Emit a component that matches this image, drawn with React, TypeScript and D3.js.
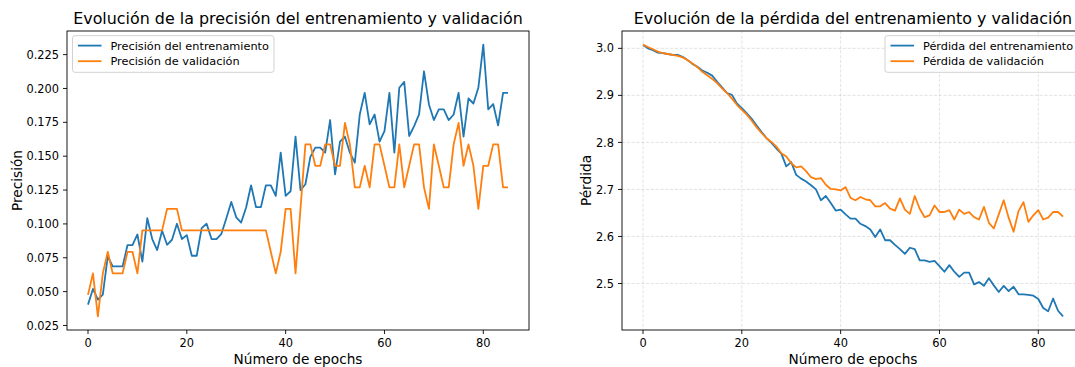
import React, { useEffect } from "react";
import * as d3 from "d3";

// Training history, one value per epoch (0..85)
const trainAcc = [
  0.0404, 0.052, 0.0441, 0.0478, 0.076, 0.0686, 0.0686, 0.0686, 0.0844, 0.0844,
  0.0922, 0.0721, 0.1042, 0.0888, 0.0807, 0.0949, 0.0846, 0.0883, 0.1001, 0.0888,
  0.0917, 0.0765, 0.0765, 0.0969, 0.1001, 0.0888, 0.0888, 0.0927, 0.1042, 0.1162,
  0.1049, 0.101, 0.1121, 0.1285, 0.1124, 0.1124, 0.1285, 0.1285, 0.1207, 0.1526,
  0.1207, 0.1241, 0.1644, 0.125, 0.1293, 0.1495, 0.1563, 0.1563, 0.1526, 0.1767,
  0.1366, 0.1607, 0.1644, 0.1526, 0.1452, 0.1808, 0.1968, 0.1735, 0.1808, 0.1607,
  0.1685, 0.1968, 0.1526, 0.2005, 0.2049, 0.1649, 0.1722, 0.1808, 0.2127, 0.1882,
  0.1767, 0.1845, 0.1845, 0.1767, 0.1808, 0.1968, 0.1644, 0.1926, 0.1889, 0.2005,
  0.2324, 0.1845, 0.1885, 0.1727, 0.1968, 0.1968,
];

const valAcc = [
  0.0476, 0.0635, 0.0317, 0.0635, 0.0794, 0.0635, 0.0635, 0.0635, 0.0794, 0.0794,
  0.0635, 0.0952, 0.0952, 0.0952, 0.0952, 0.0952, 0.1111, 0.1111, 0.1111, 0.0952,
  0.0952, 0.0952, 0.0952, 0.0952, 0.0952, 0.0952, 0.0952, 0.0952, 0.0952, 0.0952,
  0.0952, 0.0952, 0.0952, 0.0952, 0.0952, 0.0952, 0.0952, 0.0794, 0.0635, 0.0794,
  0.1111, 0.1111, 0.0635, 0.1111, 0.1587, 0.1587, 0.1429, 0.1429, 0.1587, 0.1587,
  0.1429, 0.1429, 0.1746, 0.1587, 0.127, 0.127, 0.1429, 0.127, 0.1587, 0.1587,
  0.1429, 0.127, 0.127, 0.1587, 0.127, 0.1429, 0.1587, 0.1587, 0.127, 0.1111,
  0.1587, 0.1429, 0.127, 0.127, 0.1587, 0.1746, 0.1429, 0.1587, 0.1429, 0.1111,
  0.1429, 0.1429, 0.1587, 0.1587, 0.127, 0.127,
];

const trainLoss = [
  3.007, 3.0, 2.996, 2.991, 2.99, 2.988, 2.986, 2.986, 2.982, 2.975,
  2.967, 2.961, 2.953, 2.948, 2.942, 2.929, 2.917, 2.905, 2.901, 2.883,
  2.873, 2.862, 2.85, 2.836, 2.822, 2.809, 2.799, 2.787, 2.776, 2.749,
  2.758, 2.731, 2.723, 2.717, 2.709, 2.7, 2.677, 2.686, 2.671, 2.655,
  2.657, 2.647, 2.638, 2.638, 2.627, 2.622, 2.615, 2.599, 2.615, 2.592,
  2.592, 2.582, 2.573, 2.563, 2.576, 2.573, 2.549, 2.549, 2.546, 2.548,
  2.537, 2.525, 2.539, 2.525, 2.514, 2.523, 2.523, 2.498, 2.503, 2.495,
  2.511, 2.496, 2.482, 2.495, 2.484, 2.493, 2.477, 2.477, 2.476, 2.474,
  2.467, 2.448, 2.441, 2.468, 2.442, 2.43,
];

const valLoss = [
  3.008, 3.003, 2.998, 2.993, 2.99, 2.988, 2.986, 2.984, 2.981, 2.975,
  2.968, 2.96, 2.95, 2.943, 2.935, 2.926, 2.915, 2.905, 2.893, 2.88,
  2.869, 2.859, 2.846, 2.832, 2.82, 2.809, 2.801, 2.791, 2.777, 2.77,
  2.756, 2.747, 2.749, 2.739, 2.726, 2.722, 2.724, 2.71, 2.701, 2.7,
  2.698, 2.705, 2.682, 2.677, 2.684, 2.679, 2.677, 2.664, 2.664, 2.671,
  2.659, 2.655, 2.681, 2.657, 2.648, 2.686, 2.659, 2.641, 2.645, 2.666,
  2.652, 2.652, 2.656, 2.636, 2.657, 2.648, 2.652, 2.641, 2.636, 2.663,
  2.629, 2.617, 2.647, 2.677, 2.64, 2.61, 2.654, 2.673, 2.631, 2.645,
  2.656, 2.636, 2.64, 2.652, 2.652, 2.642,
];

const epochTicks = [0, 20, 40, 60, 80];
const accTicks = [0.025, 0.05, 0.075, 0.1, 0.125, 0.15, 0.175, 0.2, 0.225];
const lossTicks = [2.5, 2.6, 2.7, 2.8, 2.9, 3.0];

const accLabels = ["Precisión del entrenamiento", "Precisión de validación"];
const lossLabels = ["Pérdida del entrenamiento", "Pérdida de validación"];

const W = 1075;
const H = 367;
const FONT = "'DejaVu Sans', sans-serif";
const COLORS = ["#1f77b4", "#ff7f0e"];

const TOP = 31;
const BOTTOM = 330;
const AX_W = 462;
const TICK_LEN = 4;
const TICK_FS = 11.4;
const LEGEND_FS = 11.3;
const LABEL_FS = 13.7;
const TITLE_FS = 15.9;
const LINE_W = 1.8;

type PanelProps = {
  id: string;
  left: number;
  title: string;
  ylabel: string;
  ylabelX: number;
  yTicks: number[];
  yFmt: (v: number) => string;
  series: number[][];
  labels: string[];
  legend: { x: number; w: number };
  grid: boolean;
};

function Panel({ id, left, title, ylabel, ylabelX, yTicks, yFmt, series, labels, legend, grid }: PanelProps) {
  const right = left + AX_W;
  const n = series[0].length;
  const span = n - 1;
  const x = d3.scaleLinear().domain([-span * 0.05, span * 1.05]).range([left, right]);
  const [lo, hi] = d3.extent(series.flat()) as [number, number];
  const pad = (hi - lo) * 0.05;
  const y = d3.scaleLinear().domain([lo - pad, hi + pad]).range([BOTTOM, TOP]);
  const line = d3
    .line<number>()
    .x((_, i) => x(i))
    .y((d) => y(d));
  const cx = (left + right) / 2;
  const cy = (TOP + BOTTOM) / 2;

  return (
    <g>
      <defs>
        <clipPath id={`clip-${id}`}>
          <rect x={left} y={TOP} width={AX_W} height={BOTTOM - TOP} />
        </clipPath>
      </defs>

      {grid && (
        <g stroke="#b0b0b0" strokeOpacity={0.45} strokeWidth={0.8} strokeDasharray="3.2,1.6">
          {epochTicks.map((t) => (
            <line key={`gx${t}`} x1={x(t)} x2={x(t)} y1={TOP} y2={BOTTOM} />
          ))}
          {yTicks.map((t) => (
            <line key={`gy${t}`} x1={left} x2={right} y1={y(t)} y2={y(t)} />
          ))}
        </g>
      )}

      <g clipPath={`url(#clip-${id})`} fill="none" strokeWidth={LINE_W} strokeLinejoin="round">
        {series.map((s, k) => (
          <path key={k} d={line(s) || ""} stroke={COLORS[k]} />
        ))}
      </g>

      <rect x={left} y={TOP} width={AX_W} height={BOTTOM - TOP} fill="none" stroke="#000" strokeWidth={0.9} />

      {epochTicks.map((t) => (
        <g key={`xt${t}`}>
          <line x1={x(t)} x2={x(t)} y1={BOTTOM} y2={BOTTOM + TICK_LEN} stroke="#000" strokeWidth={0.9} />
          <text x={x(t)} y={BOTTOM + 16.6} textAnchor="middle" fontSize={TICK_FS} fill="#000">
            {t}
          </text>
        </g>
      ))}

      {yTicks.map((t) => (
        <g key={`yt${t}`}>
          <line x1={left - TICK_LEN} x2={left} y1={y(t)} y2={y(t)} stroke="#000" strokeWidth={0.9} />
          <text x={left - 8} y={y(t) + 4.1} textAnchor="end" fontSize={TICK_FS} fill="#000">
            {yFmt(t)}
          </text>
        </g>
      ))}

      <text x={cx} y={24.3} textAnchor="middle" fontSize={TITLE_FS} fill="#000">
        {title}
      </text>
      <text x={cx} y={363.5} textAnchor="middle" fontSize={LABEL_FS} fill="#000">
        Número de epochs
      </text>
      <text
        transform={`translate(${ylabelX},${cy}) rotate(-90)`}
        textAnchor="middle"
        fontSize={LABEL_FS}
        fill="#000"
      >
        {ylabel}
      </text>

      <g>
        <rect
          x={legend.x}
          y={35.7}
          width={legend.w}
          height={36.6}
          rx={2.5}
          fill="#fff"
          fillOpacity={0.8}
          stroke="#cccccc"
          strokeWidth={0.9}
        />
        {labels.map((lab, k) => {
          const ry = 45.6 + k * 15.6;
          return (
            <g key={lab}>
              <line x1={legend.x + 5.5} x2={legend.x + 29} y1={ry} y2={ry} stroke={COLORS[k]} strokeWidth={LINE_W} />
              <text x={legend.x + 38} y={ry + 4.1} fontSize={LEGEND_FS} fill="#000">
                {lab}
              </text>
            </g>
          );
        })}
      </g>
    </g>
  );
}

export default function App() {
  useEffect(() => {
    document.body.style.margin = "0";
    document.body.style.overflow = "hidden";
  }, []);

  return (
    <svg
      width={W}
      height={H}
      viewBox={`0 0 ${W} ${H}`}
      style={{ position: "absolute", left: 0, top: 0, background: "#fff" }}
      fontFamily={FONT}
    >
      <rect width={W} height={H} fill="#fff" />
      <Panel
        id="acc"
        left={67}
        title="Evolución de la precisión del entrenamiento y validación"
        ylabel="Precisión"
        ylabelX={22}
        yTicks={accTicks}
        yFmt={d3.format(".3f")}
        series={[trainAcc, valAcc]}
        labels={accLabels}
        legend={{ x: 72.5, w: 201.5 }}
        grid={false}
      />
      <Panel
        id="loss"
        left={622}
        title="Evolución de la pérdida del entrenamiento y validación"
        ylabel="Pérdida"
        ylabelX={591}
        yTicks={lossTicks}
        yFmt={d3.format(".1f")}
        series={[trainLoss, valLoss]}
        labels={lossLabels}
        legend={{ x: 885, w: 192 }}
        grid={true}
      />
    </svg>
  );
}
